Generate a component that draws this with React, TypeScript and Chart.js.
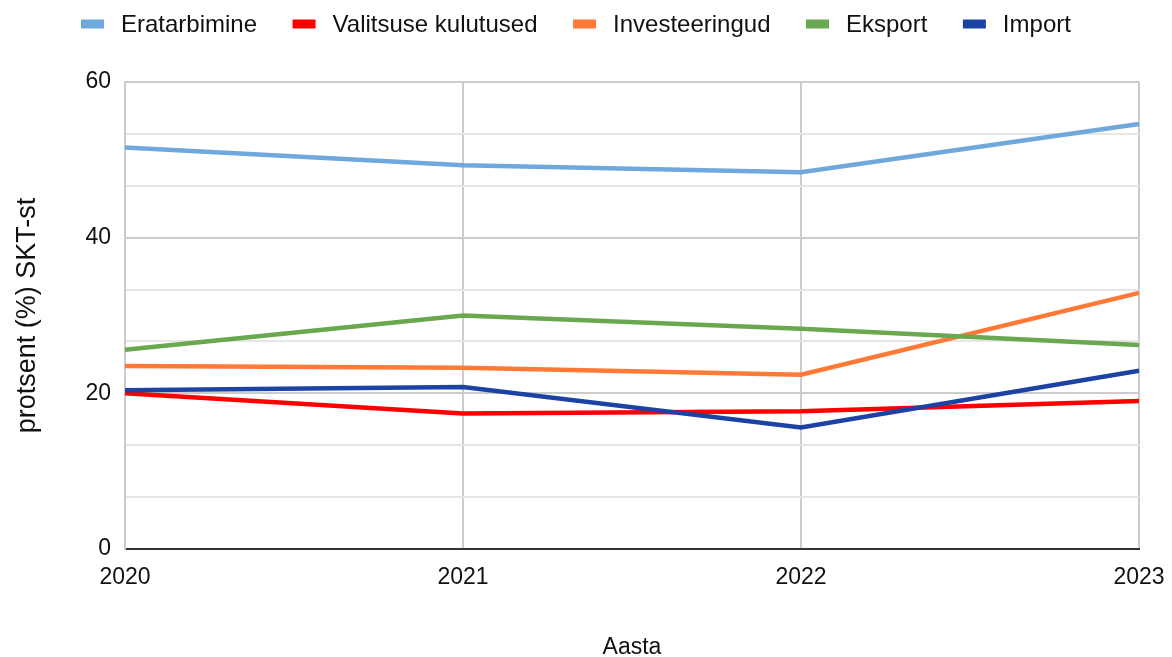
import React, { useEffect, useRef } from "react";
import { Chart, registerables } from "chart.js";

Chart.register(...registerables);

const categories = ["2020", "2021", "2022", "2023"];
const eratarbimine = [51.6, 49.3, 48.4, 54.6];
const valitsuseKulutused = [20.0, 17.4, 17.7, 19.0];
const investeeringud = [23.5, 23.3, 22.4, 32.9];
const eksport = [25.6, 30.0, 28.3, 26.2];
const importValues = [20.4, 20.8, 15.6, 22.9];

const seriesNames = ["Eratarbimine", "Valitsuse kulutused", "Investeeringud", "Eksport", "Import"];
const seriesColors = ["#6fa8dc", "#ff0000", "#ff7a36", "#6aa84f", "#1c43a3"];
const seriesValues = [eratarbimine, valitsuseKulutused, investeeringud, eksport, importValues];

const yMajorTicks = [0, 20, 40, 60];
const yMinorPerMajor = 3;

const FAMILY = "'Liberation Sans', Arial, sans-serif";
const TEXT_COLOR = "#111111";

const isMajor = (v: number) => yMajorTicks.some((m) => Math.abs(m - v) < 1e-6);

const legendPlugin = {
  id: "topLegend",
  afterDraw(chart: any) {
    const ctx = chart.ctx as CanvasRenderingContext2D;
    ctx.save();
    ctx.font = `24px ${FAMILY}`;
    ctx.textBaseline = "middle";
    ctx.textAlign = "left";
    let x = 81;
    const cy = 24;
    const boxW = 23;
    const boxH = 9;
    chart.data.datasets.forEach((ds: any) => {
      ctx.fillStyle = ds.borderColor;
      ctx.fillRect(x, cy - boxH / 2, boxW, boxH);
      x += boxW + 17;
      ctx.fillStyle = TEXT_COLOR;
      ctx.fillText(ds.label, x, cy + 1);
      x += ctx.measureText(ds.label).width + 35.5;
    });
    ctx.restore();
  },
};

export default function App() {
  const canvasRef = useRef<HTMLCanvasElement | null>(null);

  useEffect(() => {
    if (!canvasRef.current) return;
    const step = (yMajorTicks[1] - yMajorTicks[0]) / yMinorPerMajor;
    const allTicks: { value: number }[] = [];
    const maxV = yMajorTicks[yMajorTicks.length - 1];
    for (let i = 0; i * step <= maxV + 1e-9; i++) {
      allTicks.push({ value: i * step });
    }
    const tickFont = { family: FAMILY, size: 23 };

    const chart = new Chart(canvasRef.current, {
      type: "line",
      data: {
        labels: categories,
        datasets: seriesNames.map((name, i) => ({
          label: name,
          data: seriesValues[i],
          borderColor: seriesColors[i],
          backgroundColor: seriesColors[i],
          borderWidth: 4.5,
          pointRadius: 0,
          tension: 0,
          fill: false,
          order: seriesNames.length - i,
        })),
      },
      options: {
        responsive: false,
        animation: false,
        layout: { padding: { top: 82, right: 33, bottom: 0, left: 0 } },
        plugins: {
          legend: { display: false },
          tooltip: { enabled: false },
        },
        scales: {
          x: {
            type: "category",
            offset: false,
            grid: { color: "#cccccc", lineWidth: 2, drawTicks: false },
            border: { color: "#333333", width: 2 },
            ticks: { color: TEXT_COLOR, font: tickFont, padding: 15, maxRotation: 0, autoSkip: false },
            title: {
              display: true,
              text: "Aasta",
              color: TEXT_COLOR,
              font: { family: FAMILY, size: 23 },
              padding: { top: 0, bottom: -4 },
            },
            afterFit: (s: any) => {
              s.height = 108;
              s.paddingLeft = 0;
              s.paddingRight = 0;
            },
          },
          y: {
            min: 0,
            max: maxV,
            afterBuildTicks: (s: any) => {
              s.ticks = allTicks.map((t) => ({ ...t }));
            },
            grid: {
              color: (c: any) => (c.tick && isMajor(c.tick.value) ? "#cccccc" : "#e6e6e6"),
              lineWidth: 2,
              drawTicks: false,
            },
            border: { color: "#cccccc", width: 2 },
            ticks: {
              color: TEXT_COLOR,
              font: tickFont,
              padding: 14,
              autoSkip: false,
              callback: (v: any) => (isMajor(Number(v)) ? String(Math.round(Number(v))) : ""),
            },
            title: {
              display: true,
              text: "protsent (%) SKT-st",
              color: TEXT_COLOR,
              font: { family: FAMILY, size: 27 },
              padding: { top: 11, bottom: 0 },
            },
            afterFit: (s: any) => {
              s.width = 125;
            },
          },
        },
      } as any,
      plugins: [legendPlugin],
    });
    return () => chart.destroy();
  }, []);

  return (
    <div style={{ position: "absolute", left: 0, top: 0, width: 1172, height: 657, background: "#fff" }}>
      <canvas ref={canvasRef} width={1172} height={657} />
    </div>
  );
}
